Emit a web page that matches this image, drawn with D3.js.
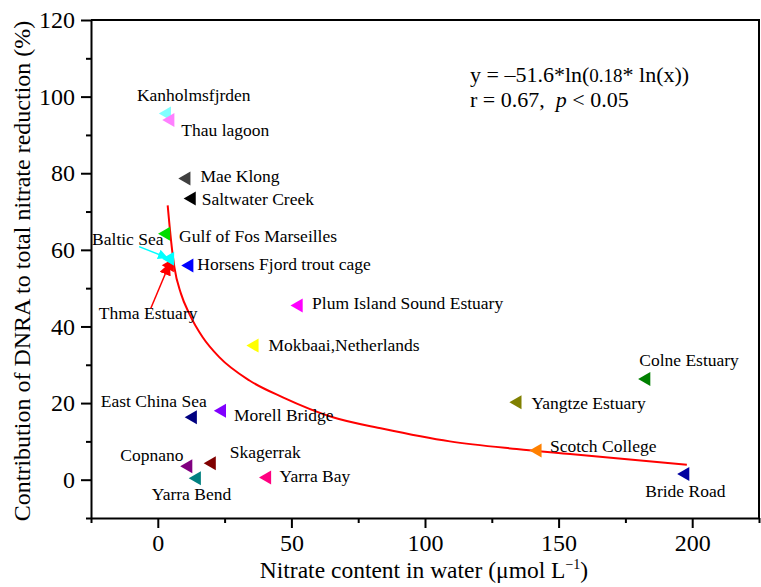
<!DOCTYPE html>
<html>
<head>
<meta charset="utf-8">
<script src="https://cdn.jsdelivr.net/npm/d3@7/dist/d3.min.js"></script>
<style>
  body { margin: 0; background: #fff; }
  svg { display: block; }
  text { font-family: "Liberation Serif", "Times New Roman", serif; }
</style>
</head>
<body>
<svg id="chart"></svg>
<script>
/* * * * * DATA * * * * */
const sites = ['Kanholmsfjrden', 'Thau lagoon', 'Mae Klong', 'Saltwater Creek',
  'Gulf of Fos Marseilles', 'Thma Estuary', 'Baltic Sea', 'Horsens Fjord trout cage',
  'Plum Island Sound Estuary', 'Mokbaai,Netherlands', 'Colne Estuary', 'Yangtze Estuary',
  'Scotch College', 'Bride Road', 'East China Sea', 'Morell Bridge', 'Copnano',
  'Skagerrak', 'Yarra Bay', 'Yarra Bend'];
const nitrate = [3.4, 4.7, 10.7, 12.7, 3.1, 4.5, 4.6, 11.8, 52.7, 36.2, 182.8, 134.6,
  142.1, 197.4, 13.1, 24.0, 11.4, 20.2, 40.9, 14.6];
const dnra = [95.6, 93.9, 78.6, 73.4, 64.2, 56.0, 57.7, 55.9, 45.5, 35.0, 26.3, 20.2,
  7.6, 1.5, 16.3, 18.0, 3.5, 4.3, 0.6, 0.4];
const siteColors = ['#80ffff', '#ff80ff', '#404040', '#000000', '#00dd00', '#ff0000',
  '#00ffff', '#0000ff', '#ff00ff', '#ffff00', '#008000', '#808000', '#ff8000',
  '#0000a0', '#000080', '#8000ff', '#800080', '#800000', '#ff0080', '#008080'];

// fitted curve
const fitX = [3.7, 4.95, 6.2, 8.7, 11.8, 16.8, 23.0, 34.3, 46.8, 65.5, 84.3, 109.3, 134.3, 154.3, 198];
const fitY = [71.6, 62.5, 55.5, 48.5, 43.3, 37.2, 32.0, 25.9, 21.5, 16.3, 13.3, 10.0, 8.0, 6.7, 3.9];

const xMajor = [0, 50, 100, 150, 200];
const xMinor = [-25, 25, 75, 125, 175, 225];
const yMajor = [0, 20, 40, 60, 80, 100, 120];
const yMinor = [-10, 10, 30, 50, 70, 90, 110];

/* * * * * LAYOUT * * * * */
const width = 761;
const height = 587;
const margin = { top: 20, right: 2, bottom: 69, left: 91 };

// label offsets (px) from each marker
const labelDx = [-30, 11, 14, 10, 13, -71, -78, 8, 13.5, 14, -7, 14, 12.5, -40, -92, 12, -68, 18, 12.5, -45];
const labelDy = [-12, 16, 3.5, 6, 8, 53.5, -14, 4, 4, 5, -13, 6.6, 1.7, 23, -10, 10.7, -5, -5.4, 5, 22];

const svg = d3.select('#chart')
  .attr('width', width)
  .attr('height', height);

const x = d3.scaleLinear()
  .domain([-25, 225])
  .range([margin.left, width - margin.right]);
const y = d3.scaleLinear()
  .domain([-10, 120])
  .range([height - margin.bottom, margin.top]);

const tickFont = 24;

// box top / right
svg.append('path')
  .attr('d', `M${x(-25)},${y(120)}H${x(225)}V${y(-10)}`)
  .attr('fill', 'none')
  .attr('stroke', 'black')
  .attr('stroke-width', 2);

// minor ticks
svg.append('g')
  .attr('transform', `translate(0,${y(-10)})`)
  .call(d3.axisBottom(x).tickValues(xMinor).tickSize(5).tickFormat(''))
  .call(g => g.select('.domain').remove());
svg.append('g')
  .attr('transform', `translate(${x(-25)},0)`)
  .call(d3.axisLeft(y).tickValues(yMinor).tickSize(5).tickFormat(''))
  .call(g => g.select('.domain').remove());

// major axes
const xAxis = svg.append('g')
  .attr('transform', `translate(0,${y(-10)})`)
  .call(d3.axisBottom(x).tickValues(xMajor).tickSize(10).tickSizeOuter(0).tickPadding(6));
const yAxis = svg.append('g')
  .attr('transform', `translate(${x(-25)},0)`)
  .call(d3.axisLeft(y).tickValues(yMajor).tickSize(10).tickSizeOuter(0).tickPadding(6));

svg.selectAll('.tick line').attr('stroke-width', 2);
svg.selectAll('.domain').attr('stroke-width', 2);
[xAxis, yAxis].forEach(function(a) {
  a.selectAll('text')
    .attr('font-size', tickFont)
    .attr('fill', 'black');
});

// axis titles
svg.append('text')
  .attr('x', (x(-25) + x(225)) / 2 - 1)
  .attr('y', 578)
  .attr('text-anchor', 'middle')
  .style('font-size', '23.5px')
  .html('Nitrate content in water (\u03bcmol L<tspan dy="-9" font-size="14">\u22121</tspan><tspan dy="9">)</tspan>');

svg.append('text')
  .attr('transform', `translate(30,${(y(-10) + y(120)) / 2 + 2}) rotate(-90)`)
  .attr('text-anchor', 'middle')
  .style('font-size', '24px')
  .text('Contribution of DNRA to total nitrate reduction (%)');

// fitted curve
const fitLine = d3.line()
  .x(function(d, i) { return x(fitX[i]); })
  .y(function(d, i) { return y(fitY[i]); })
  .curve(d3.curveMonotoneX);

svg.append('path')
  .datum(fitX)
  .attr('d', fitLine)
  .attr('fill', 'none')
  .attr('stroke', '#ff0000')
  .attr('stroke-width', 2);

// markers
const tri = d3.symbol().type(d3.symbolTriangle).size(85);
svg.append('g').selectAll('path')
  .data(sites)
  .enter()
  .append('path')
  .attr('d', tri)
  .attr('transform', function(d, i) { return `translate(${x(nitrate[i])},${y(dnra[i])}) rotate(-90)`; })
  .attr('fill', function(d, i) { return siteColors[i]; });

// labels
svg.append('g').selectAll('text')
  .data(sites)
  .enter()
  .append('text')
  .attr('x', function(d, i) { return x(nitrate[i]) + labelDx[i]; })
  .attr('y', function(d, i) { return y(dnra[i]) + labelDy[i]; })
  .style('font-size', '17.5px')
  .text(function(d) { return d; });

// arrows for Baltic Sea and Thma Estuary
const defs = svg.append('defs');
function arrowMarker(id, color, size) {
  defs.append('marker')
    .attr('id', id)
    .attr('viewBox', '0 0 10 10')
    .attr('refX', 9)
    .attr('refY', 5)
    .attr('markerWidth', size)
    .attr('markerHeight', size)
    .attr('orient', 'auto')
    .attr('markerUnits', 'userSpaceOnUse')
    .append('path')
    .attr('d', 'M0,0L10,5L0,10Z')
    .attr('fill', color);
}
arrowMarker('arr-cyan', '#00ffff', 10);
arrowMarker('arr-red', '#ff0000', 12);

const iB = sites.indexOf('Baltic Sea');
svg.append('line')
  .attr('x1', x(nitrate[iB]) - 31).attr('y1', y(dnra[iB]) - 12)
  .attr('x2', x(nitrate[iB]) - 3).attr('y2', y(dnra[iB]) - 1)
  .attr('stroke', '#00ffff')
  .attr('stroke-width', 1.5)
  .attr('marker-end', 'url(#arr-cyan)');

const iT = sites.indexOf('Thma Estuary');
svg.append('line')
  .attr('x1', x(nitrate[iT]) - 19).attr('y1', y(dnra[iT]) + 43)
  .attr('x2', x(nitrate[iT]) - 0.5).attr('y2', y(dnra[iT]) - 1)
  .attr('stroke', '#ff0000')
  .attr('stroke-width', 1.5)
  .attr('marker-end', 'url(#arr-red)');

// equation
svg.append('text')
  .attr('x', 470)
  .attr('y', 82)
  .style('font-size', '22px')
  .html('y = \u201351.6*ln(<tspan font-size="19">0.18</tspan>* ln(x))');
svg.append('text')
  .attr('x', 470)
  .attr('y', 107)
  .style('font-size', '22px')
  .html('r = 0.67,\u00a0 <tspan font-style="italic">p</tspan> &lt; 0.05');
</script>
</body>
</html>
